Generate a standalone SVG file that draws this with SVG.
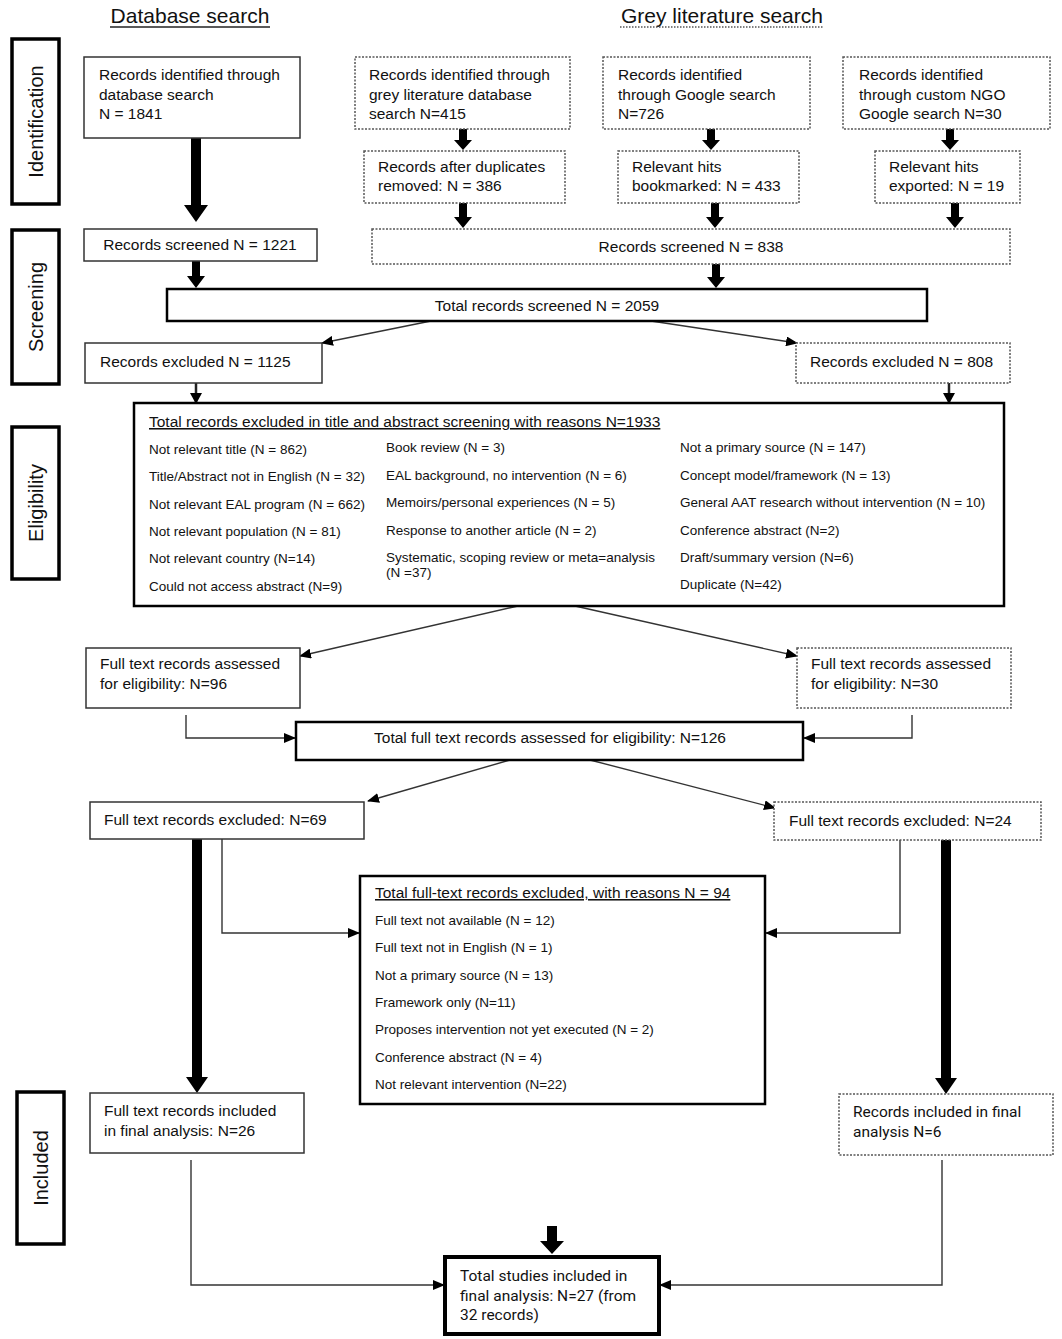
<svg xmlns="http://www.w3.org/2000/svg" width="1062" height="1339" viewBox="0 0 1062 1339">
<defs>
<style>
text{font-family:"Liberation Sans",Arial,sans-serif;fill:#111;}
.t{font-size:15.5px;}
.s{font-size:13.5px;}
.h{font-size:15.5px;text-decoration:underline;}
.hd{font-size:21px;}
.lab{font-size:20px;text-anchor:middle;}
.r{font-family:Roboto,"Liberation Sans",sans-serif;font-size:15.5px;}
.c{text-anchor:middle;}
.box{fill:#fff;stroke:#333;stroke-width:1.5;}
.dash{fill:#fff;stroke:#555;stroke-width:1.5;stroke-dasharray:2 1.5;}
.thick{fill:#fff;stroke:#000;stroke-width:2.5;}
.side{fill:#fff;stroke:#000;stroke-width:3.5;}
.ln{fill:none;stroke:#333;stroke-width:1.4;marker-end:url(#ah);}
.ln2{fill:none;stroke:#222;stroke-width:2.5;marker-end:url(#ah2);}
.fat{fill:#000;stroke:none;}
</style>
<marker id="ah" markerUnits="userSpaceOnUse" markerWidth="12" markerHeight="10" refX="11" refY="5" orient="auto"><path d="M0,0 L12,5 L0,10 Z" fill="#000"/></marker>
<marker id="ah2" markerUnits="userSpaceOnUse" markerWidth="12" markerHeight="12" refX="10" refY="6" orient="auto"><path d="M0,0 L11,6 L0,12 Z" fill="#000"/></marker>
</defs>
<rect width="1062" height="1339" fill="#fff"/>

<g id="headers">
<text class="hd c" x="190" y="23">Database search</text>
<line x1="110" y1="27" x2="270" y2="27" stroke="#222" stroke-width="1.3"/>
<text class="hd c" x="722" y="23">Grey literature search</text>
<line x1="620" y1="27" x2="824" y2="27" stroke="#555" stroke-width="1.3" stroke-dasharray="1.5 1.5"/>
</g>

<g id="stage-identification">
<rect class="side" x="12" y="39" width="47" height="165"/>
<text class="lab" transform="translate(35.5,121.5) rotate(-90)" x="0" y="7">Identification</text>
</g>
<g id="stage-screening">
<rect class="side" x="12" y="230" width="47" height="154"/>
<text class="lab" transform="translate(35.5,307) rotate(-90)" x="0" y="7">Screening</text>
</g>
<g id="stage-eligibility">
<rect class="side" x="12" y="427" width="47" height="152"/>
<text class="lab" transform="translate(35.5,503) rotate(-90)" x="0" y="7">Eligibility</text>
</g>
<g id="stage-included">
<rect class="side" x="17" y="1092" width="47" height="152"/>
<text class="lab" transform="translate(40.5,1168) rotate(-90)" x="0" y="7">Included</text>
</g>

<g id="connectors">
<path class="fat" d="M191,138 H201 V205 H208 L196,222 L184,205 H191 Z"/>
<path class="fat" d="M459,129 H467 V140 H472 L463,150 L454,140 H459 Z"/>
<path class="fat" d="M707,129 H715 V140 H720 L711,150 L702,140 H707 Z"/>
<path class="fat" d="M946,129 H954 V140 H959 L950,150 L941,140 H946 Z"/>
<path class="fat" d="M459,203 H467 V217 H472 L463,228 L454,217 H459 Z"/>
<path class="fat" d="M711,203 H719 V217 H724 L715,228 L706,217 H711 Z"/>
<path class="fat" d="M951,203 H959 V217 H964 L955,228 L946,217 H951 Z"/>
<path class="fat" d="M192,261 H200 V276 H205 L196,288 L187,276 H192 Z"/>
<path class="fat" d="M712,264 H720 V277 H725 L716,288 L707,277 H712 Z"/>
<path class="ln" d="M431,321 L322,343"/>
<path class="ln" d="M651,321 L797,343"/>
<path class="ln2" d="M196,383 V403"/>
<path class="ln2" d="M949,383 V403"/>
<path class="ln" d="M518,606 L300,656"/>
<path class="ln" d="M575,606 L797,656"/>
<path class="ln" d="M186,715 V738 H295"/>
<path class="ln" d="M912,715 V738 H804"/>
<path class="ln" d="M510,760 L368,801"/>
<path class="ln" d="M590,760 L775,808"/>
<path class="fat" d="M192,839 H202 V1077 H208 L197,1093 L186,1077 H192 Z"/>
<path class="ln" d="M222,839 V933 H359"/>
<path class="fat" d="M941,840 H951 V1078 H957 L946,1094 L935,1078 H941 Z"/>
<path class="ln" d="M900,840 V933 H766"/>
<path class="ln" d="M191,1160 V1285 H444"/>
<path class="ln" d="M942,1160 V1285 H660"/>
<path class="fat" d="M547,1226 H557 V1241 H564 L552,1254 L540,1241 H547 Z"/>
</g>

<g id="n-db-identified">
<rect class="box" x="84" y="57" width="216" height="81"/>
<text class="t" x="99" y="80">Records identified through</text>
<text class="t" x="99" y="100">database search</text>
<text class="t" x="99" y="119">N = 1841</text>
</g>
<g id="n-grey-db">
<rect class="dash" x="355" y="57" width="215" height="72"/>
<text class="t" x="369" y="80">Records identified through</text>
<text class="t" x="369" y="100">grey literature database</text>
<text class="t" x="369" y="119">search N=415</text>
</g>
<g id="n-google">
<rect class="dash" x="603" y="57" width="207" height="72"/>
<text class="t" x="618" y="80">Records identified</text>
<text class="t" x="618" y="100">through Google search</text>
<text class="t" x="618" y="119">N=726</text>
</g>
<g id="n-ngo">
<rect class="dash" x="843" y="57" width="207" height="72"/>
<text class="t" x="859" y="80">Records identified</text>
<text class="t" x="859" y="100">through custom NGO</text>
<text class="t" x="859" y="119">Google search N=30</text>
</g>
<g id="n-duplicates">
<rect class="dash" x="364" y="151" width="201" height="52"/>
<text class="t" x="378" y="172">Records after duplicates</text>
<text class="t" x="378" y="191">removed: N = 386</text>
</g>
<g id="n-bookmarked">
<rect class="dash" x="618" y="151" width="181" height="52"/>
<text class="t" x="632" y="172">Relevant hits</text>
<text class="t" x="632" y="191">bookmarked: N = 433</text>
</g>
<g id="n-exported">
<rect class="dash" x="875" y="151" width="145" height="52"/>
<text class="t" x="889" y="172">Relevant hits</text>
<text class="t" x="889" y="191">exported: N = 19</text>
</g>
<g id="n-screened-1221">
<rect class="box" x="84" y="229" width="233" height="32"/>
<text class="t c" x="200" y="250">Records screened N = 1221</text>
</g>
<g id="n-screened-838">
<rect class="dash" x="372" y="229" width="638" height="35"/>
<text class="t c" x="691" y="252">Records screened N = 838</text>
</g>
<g id="n-total-screened">
<rect class="thick" x="167" y="289" width="760" height="32"/>
<text class="t c" x="547" y="311">Total records screened N = 2059</text>
</g>
<g id="n-excluded-1125">
<rect class="box" x="85" y="343" width="237" height="40"/>
<text class="t" x="100" y="367">Records excluded N = 1125</text>
</g>
<g id="n-excluded-808">
<rect class="dash" x="796" y="343" width="214" height="40"/>
<text class="t" x="810" y="367">Records excluded N = 808</text>
</g>
<g id="n-title-abstract-reasons">
<rect class="thick" x="134" y="403" width="870" height="203"/>
<text class="h" x="149" y="427">Total records excluded in title and abstract screening with reasons N=1933</text>
<text class="s" x="149" y="454">Not relevant title (N = 862)</text>
<text class="s" x="149" y="481">Title/Abstract not in English (N = 32)</text>
<text class="s" x="149" y="509">Not relevant EAL program (N = 662)</text>
<text class="s" x="149" y="536">Not relevant population (N = 81)</text>
<text class="s" x="149" y="563">Not relevant country (N=14)</text>
<text class="s" x="149" y="591">Could not access abstract (N=9)</text>
<text class="s" x="386" y="452">Book review (N = 3)</text>
<text class="s" x="386" y="480">EAL background, no intervention (N = 6)</text>
<text class="s" x="386" y="507">Memoirs/personal experiences (N = 5)</text>
<text class="s" x="386" y="535">Response to another article (N = 2)</text>
<text class="s" x="386" y="562">Systematic, scoping review or meta=analysis</text>
<text class="s" x="386" y="577">(N =37)</text>
<text class="s" x="680" y="452">Not a primary source (N = 147)</text>
<text class="s" x="680" y="480">Concept model/framework (N = 13)</text>
<text class="s" x="680" y="507">General AAT research without intervention (N = 10)</text>
<text class="s" x="680" y="535">Conference abstract (N=2)</text>
<text class="s" x="680" y="562">Draft/summary version (N=6)</text>
<text class="s" x="680" y="589">Duplicate (N=42)</text>
</g>
<g id="n-ft-96">
<rect class="box" x="86" y="648" width="214" height="60"/>
<text class="t" x="100" y="669">Full text records assessed</text>
<text class="t" x="100" y="689">for eligibility: N=96</text>
</g>
<g id="n-ft-30">
<rect class="dash" x="797" y="648" width="214" height="60"/>
<text class="t" x="811" y="669">Full text records assessed</text>
<text class="t" x="811" y="689">for eligibility: N=30</text>
</g>
<g id="n-ft-126">
<rect class="thick" x="296" y="722" width="507" height="38"/>
<text class="t c" x="550" y="743">Total full text records assessed for eligibility: N=126</text>
</g>
<g id="n-ex-69">
<rect class="box" x="90" y="802" width="274" height="37"/>
<text class="t" x="104" y="825">Full text records excluded: N=69</text>
</g>
<g id="n-ex-24">
<rect class="dash" x="774" y="802" width="267" height="38"/>
<text class="t" x="789" y="826">Full text records excluded: N=24</text>
</g>
<g id="n-fulltext-reasons">
<rect class="thick" x="360" y="876" width="405" height="228"/>
<text class="h" x="375" y="898">Total full-text records excluded, with reasons N = 94</text>
<text class="s" x="375" y="925">Full text not available (N = 12)</text>
<text class="s" x="375" y="952">Full text not in English (N = 1)</text>
<text class="s" x="375" y="980">Not a primary source (N = 13)</text>
<text class="s" x="375" y="1007">Framework only (N=11)</text>
<text class="s" x="375" y="1034">Proposes intervention not yet executed (N = 2)</text>
<text class="s" x="375" y="1062">Conference abstract (N = 4)</text>
<text class="s" x="375" y="1089">Not relevant intervention (N=22)</text>
</g>
<g id="n-inc-26">
<rect class="box" x="90" y="1093" width="214" height="60"/>
<text class="t" x="104" y="1116">Full text records included</text>
<text class="t" x="104" y="1136">in final analysis: N=26</text>
</g>
<g id="n-inc-6">
<rect class="dash" x="839" y="1094" width="214" height="61"/>
<text class="r" x="853" y="1117">Records included in final</text>
<text class="r" x="853" y="1137">analysis N=6</text>
</g>
<g id="n-final">
<rect fill="#fff" stroke="#000" stroke-width="4" x="445" y="1257" width="214" height="77"/>
<text class="r" x="460" y="1281">Total studies included in</text>
<text class="r" x="460" y="1301">final analysis: N=27 (from</text>
<text class="r" x="460" y="1320">32 records)</text>
</g>
</svg>
